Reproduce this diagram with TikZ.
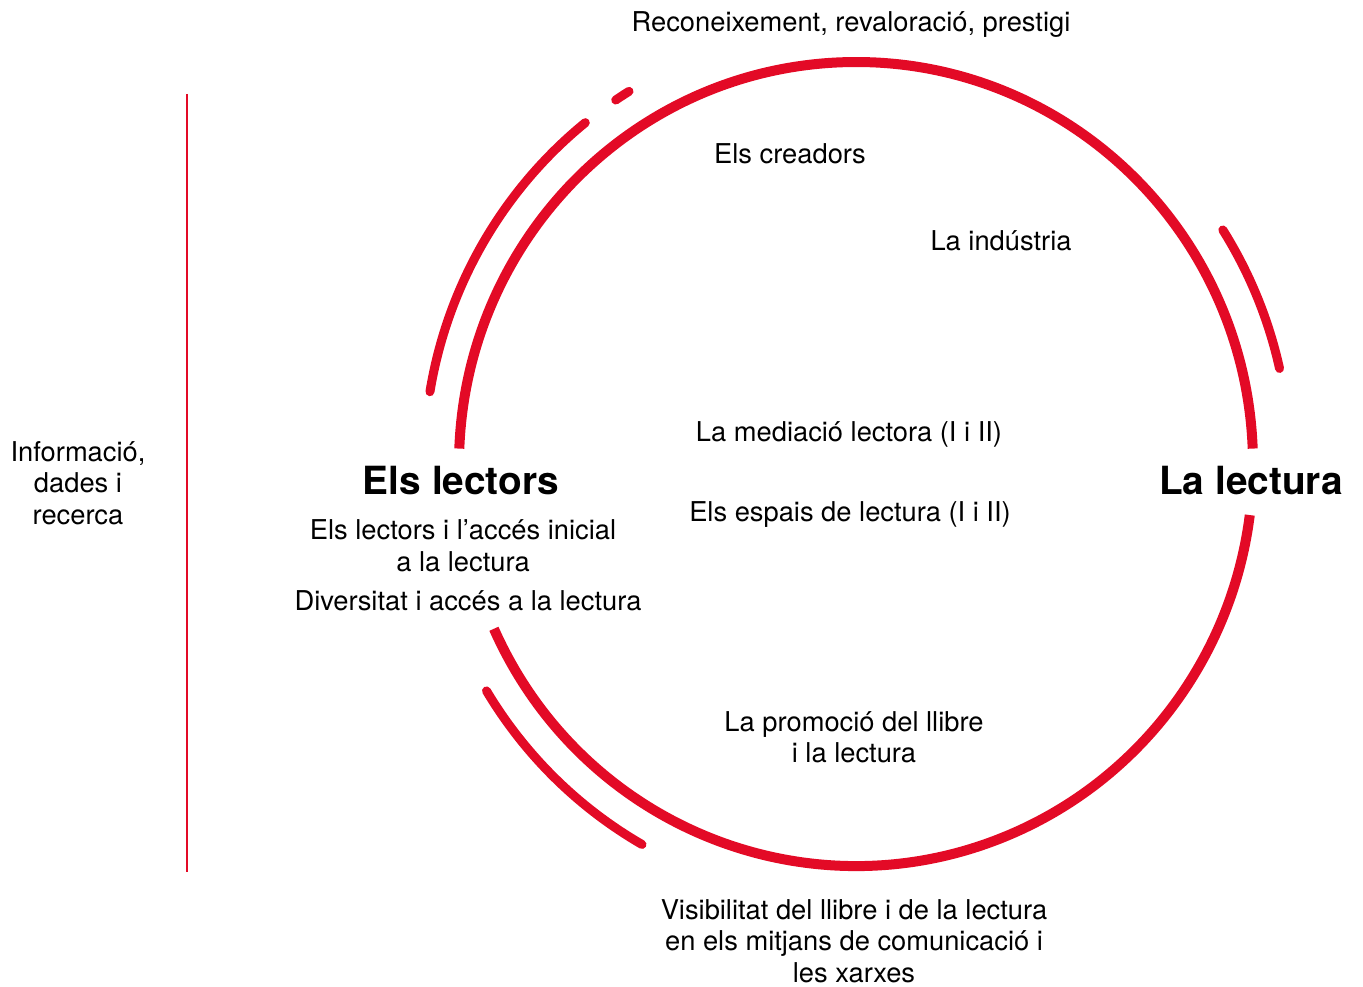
\documentclass[tikz,border=0pt]{standalone}
\usepackage{fontspec}
\setmainfont{TeX Gyre Heros}
\definecolor{lecturared}{RGB}{227,10,38}

\begin{document}
\begin{tikzpicture}[x=1pt, y=1pt,
    ring/.style={draw=lecturared, line width=10pt},
    outerarc/.style={draw=lecturared, line width=9pt, line cap=round},
    lbl/.style={font=\fontsize{27.3}{31.5}\selectfont, align=center, inner sep=0pt},
    heading/.style={font=\fontsize{38.8}{44}\selectfont\bfseries, inner sep=0pt}]

  \useasboundingbox (0,0) rectangle (1363,-987);
  \coordinate (ctr) at (856,-464);

  % main ring, open at both sides
  \draw[ring] ([shift={(2.2:397 and 402)}]ctr)
    arc[start angle=2.2, end angle=177.8, x radius=397, y radius=402];
  \draw[ring] ([shift={(204.2:397 and 402)}]ctr)
    arc[start angle=204.2, end angle=352.7, x radius=397, y radius=402];

  % outer arcs
  \draw[outerarc] ([shift={(170.5:432 and 438)}]ctr)
    arc[start angle=170.5, end angle=128.8, x radius=432, y radius=438];
  \draw[outerarc] ([shift={(123.8:432 and 438)}]ctr)
    arc[start angle=123.8, end angle=121.7, x radius=432, y radius=438];
  \draw[outerarc] ([shift={(32.3:434 and 438)}]ctr)
    arc[start angle=32.3, end angle=12.6, x radius=434, y radius=438];
  \draw[outerarc] ([shift={(211.2:432 and 438)}]ctr)
    arc[start angle=211.2, end angle=240.3, x radius=432, y radius=438];

  % side bar
  \coordinate (bar-top) at (187,-94);
  \coordinate (bar-bot) at (187,-872);
  \draw[lecturared, line width=2pt] (bar-top) -- (bar-bot);

  \node[lbl] (recon) at (851,-25) {Reconeixement, revaloració, prestigi};
  \node[lbl] (creadors) at (790,-154) {Els creadors};
  \node[lbl] (industria) at (1001,-241) {La indústria};
  \node[lbl] (mediacio) at (849,-434) {La mediació lectora (I i II)};
  \node[lbl] (espais) at (850,-515) {Els espais de lectura (I i II)};
  \node[heading] (lectors) at (461,-481) {Els lectors};
  \node[heading] (lectura) at (1251,-481) {La lectura};
  \node[lbl] (acces) at (463,-546) {Els lectors i l’accés inicial\\a la lectura};
  \node[lbl] (diversitat) at (468,-601) {Diversitat i accés a la lectura};
  \node[lbl] (promocio) at (854,-737) {La promoció del llibre\\i la lectura};
  \node[lbl] (visibilitat) at (854,-941) {Visibilitat del llibre i de la lectura\\en els mitjans de comunicació i\\les xarxes};
  \node[lbl] (informacio) at (78,-483) {Informació,\\dades i\\recerca};

\end{tikzpicture}
\end{document}
